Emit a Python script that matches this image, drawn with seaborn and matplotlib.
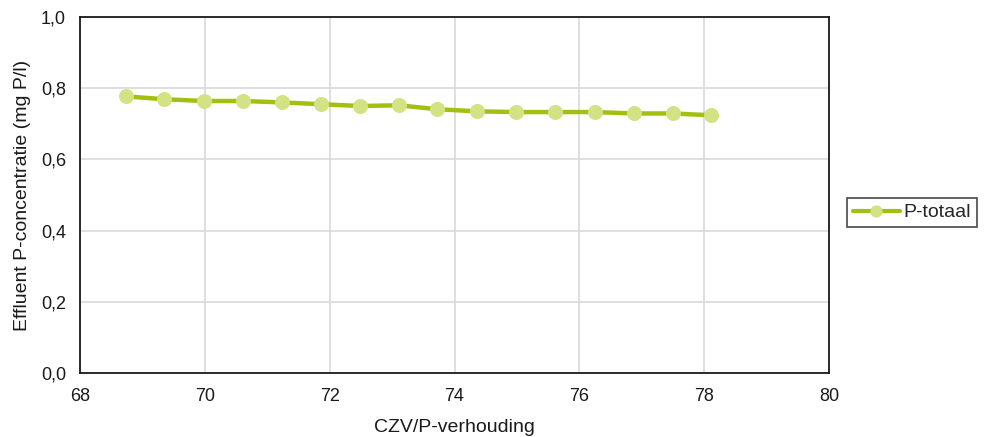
import matplotlib
matplotlib.use("Agg")
import matplotlib.pyplot as plt
import seaborn as sns
import pandas as pd

x_vals = [68.74, 69.35, 69.99, 70.61, 71.24, 71.86, 72.49, 73.11, 73.72, 74.36,
          74.99, 75.61, 76.25, 76.88, 77.50, 78.11]
p_totaal = [0.777, 0.769, 0.764, 0.764, 0.760, 0.755, 0.750, 0.752, 0.741, 0.735,
            0.733, 0.733, 0.733, 0.729, 0.729, 0.724]
x_ticks = [68, 70, 72, 74, 76, 78, 80]
y_ticks = [0.0, 0.2, 0.4, 0.6, 0.8, 1.0]
y_tick_labels = ["0,0", "0,2", "0,4", "0,6", "0,8", "1,0"]

sns.set_style("white")
plt.rcParams['font.family'] = ['Liberation Sans', 'DejaVu Sans']

df = pd.DataFrame({"x": x_vals, "y": p_totaal})

fig = plt.figure(figsize=(9.85, 4.37), dpi=100)
ax = fig.add_axes([80/985, (437-373)/437, (829-80)/985, (373-17)/437])

sns.lineplot(data=df, x="x", y="y", ax=ax, color="#a2c00f", linewidth=3.2,
             marker="o", markersize=10, markerfacecolor="#d3e283",
             markeredgecolor="#d3e283", label="P-totaal", zorder=3)

ax.set_xlim(68, 80)
ax.set_ylim(0, 1.0)
ax.set_xticks(x_ticks)
ax.set_xticklabels([str(t) for t in x_ticks], fontsize=13, color="#1a1a1a")
ax.set_yticks(y_ticks)
ax.set_yticklabels(y_tick_labels, fontsize=13, color="#1a1a1a")
ax.grid(True, color="#d9d9d9", linewidth=1.2)
ax.set_axisbelow(True)
for s in ["top", "right", "left", "bottom"]:
    ax.spines[s].set_visible(True)
    ax.spines[s].set_color("#1a1a1a")
    ax.spines[s].set_linewidth(1.3)
ax.tick_params(axis="y", length=0, pad=10)
ax.tick_params(axis="x", length=0, pad=11)
ax.set_xlabel("CZV/P-verhouding", fontsize=14, color="#1a1a1a", labelpad=10)
ax.set_ylabel("Effluent P-concentratie (mg P/l)", fontsize=14, color="#1a1a1a", labelpad=7)

leg = ax.legend(loc="center left", bbox_to_anchor=(847/985, (437-212.5)/437),
                bbox_transform=fig.transFigure, frameon=True, fontsize=14,
                fancybox=False, handlelength=2.4, handletextpad=0.2,
                borderpad=0.3, borderaxespad=0)
leg.get_frame().set_edgecolor("#1a1a1a")
leg.get_frame().set_linewidth(1.2)
for h in leg.legend_handles:
    h.set_markersize(8)
    h.set_linewidth(3)

fig.savefig("out.png", dpi=100)
